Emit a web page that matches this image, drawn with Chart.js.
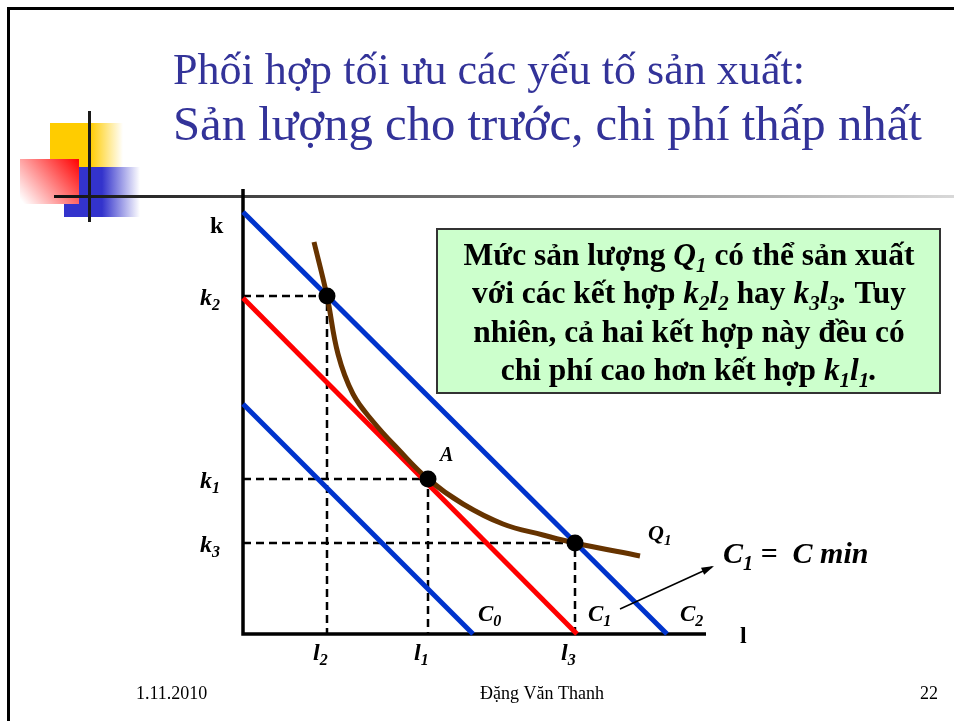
<!DOCTYPE html>
<html>
<head>
<meta charset="utf-8">
<script src="https://cdn.jsdelivr.net/npm/chart.js@4"></script>
<style>
  html, body { margin: 0; padding: 0; background: #fff; }
  canvas { display: block; }
</style>
</head>
<body>
<canvas id="slideChart" width="954" height="721"></canvas>
<script>
// values (l on x, k on y)
const lLabels = ['l2', 'l1', 'l3'];
const lValues = [1.68, 3.7, 6.64];
const kLabels = ['k2', 'k1', 'k3'];
const kValues = [6.76, 3.1, 1.82];

// isocost lines: intercepts on k and l axes
const isoNames = ['C0', 'C1', 'C2'];
const isoK = [4.6, 6.72, 8.44];
const isoL = [4.6, 6.68, 8.48];

// isoquant Q1
const q1L = [1.42, 1.68, 1.9, 2.2, 2.6, 3.1, 3.7, 4.4, 5.2, 6.0, 6.64, 7.94];
const q1K = [7.84, 6.76, 5.6, 4.8, 4.25, 3.7, 3.1, 2.6, 2.2, 1.98, 1.82, 1.56];

const axisTopK = 8.9;
const axisEndL = 9.26;

const SERIF = '"Liberation Serif", "Times New Roman", serif';
const BLUE = '#0033cc';
const RED = '#ff0000';
const BROWN = '#663300';

// draws text made of [text, style] pieces: b = bold, i = bold italic, s = subscript
function drawRich(ctx, segs, x, y, size, align) {
    const fontFor = st => st === 'b' ? `bold ${size}px ${SERIF}`
        : st === 'i' ? `italic bold ${size}px ${SERIF}`
        : `italic bold ${Math.round(size * 0.68)}px ${SERIF}`;
    let total = 0;
    const widths = segs.map(s => {
        ctx.font = fontFor(s[1]);
        const w = ctx.measureText(s[0]).width;
        total += w;
        return w;
    });
    let cx = align === 'center' ? x - total / 2 : x;
    ctx.textAlign = 'left';
    ctx.textBaseline = 'alphabetic';
    segs.forEach((s, i) => {
        ctx.font = fontFor(s[1]);
        ctx.fillText(s[0], cx, s[1] === 's' ? y + size * 0.22 : y);
        cx += widths[i];
    });
    return total;
}

// "k2" -> italic k with subscript 2
function symbol(name) {
    return [[name[0], 'i'], [name.slice(1), 's']];
}

function fitSize(ctx, text, weight, target) {
    ctx.font = `${weight} 40px ${SERIF}`;
    return 40 * target / ctx.measureText(text).width;
}

const boxLines = [
    [['Mức sản lượng ', 'b'], ['Q', 'i'], ['1', 's'], [' có thể sản xuất', 'b']],
    [['với các kết hợp ', 'b'], ['k', 'i'], ['2', 's'], ['l', 'i'], ['2', 's'], [' hay ', 'b'],
        ['k', 'i'], ['3', 's'], ['l', 'i'], ['3', 's'], ['.', 'i'], [' Tuy', 'b']],
    [['nhiên, cả hai kết hợp này đều có', 'b']],
    [['chi phí cao hơn kết hợp ', 'b'], ['k', 'i'], ['1', 's'], ['l', 'i'], ['1', 's'], ['.', 'i']]
];

const slidePlugin = {
    id: 'slide',
    beforeDraw(chart) {
        const ctx = chart.ctx;
        ctx.save();
        ctx.fillStyle = '#fff';
        ctx.fillRect(0, 0, chart.width, chart.height);

        // slide frame
        ctx.fillStyle = '#000';
        ctx.fillRect(7, 7, 947, 3);
        ctx.fillRect(7, 7, 3, 714);

        // decorative squares
        let g = ctx.createLinearGradient(50, 0, 123, 0);
        g.addColorStop(0, '#ffcc00');
        g.addColorStop(0.55, '#ffcc00');
        g.addColorStop(1, '#ffffff');
        ctx.fillStyle = g;
        ctx.fillRect(50, 123, 73, 44);

        g = ctx.createLinearGradient(64, 0, 140, 0);
        g.addColorStop(0, '#3333cc');
        g.addColorStop(0.5, '#3333cc');
        g.addColorStop(1, '#ffffff');
        ctx.fillStyle = g;
        ctx.fillRect(64, 167, 76, 50);

        g = ctx.createLinearGradient(79, 159, 24, 204);
        g.addColorStop(0, '#ff0000');
        g.addColorStop(1, '#ffffff');
        ctx.fillStyle = g;
        ctx.fillRect(20, 159, 59, 45);

        g = ctx.createLinearGradient(54, 0, 954, 0);
        g.addColorStop(0, '#111');
        g.addColorStop(0.3, '#555');
        g.addColorStop(1, '#d8d8d8');
        ctx.fillStyle = g;
        ctx.fillRect(54, 195, 900, 3);

        ctx.fillStyle = '#1a1a1a';
        ctx.fillRect(88, 111, 3, 111);

        // title
        ctx.fillStyle = '#333399';
        ctx.textAlign = 'left';
        ctx.textBaseline = 'alphabetic';
        const t1 = 'Phối hợp tối ưu các yếu tố sản xuất:';
        const t2 = 'Sản lượng cho trước, chi phí thấp nhất';
        ctx.font = `${fitSize(ctx, t1, 'normal', 632)}px ${SERIF}`;
        ctx.fillText(t1, 173, 84);
        ctx.font = `${fitSize(ctx, t2, 'normal', 749)}px ${SERIF}`;
        ctx.fillText(t2, 173, 140);

        // footer
        ctx.fillStyle = '#000';
        ctx.font = `18px ${SERIF}`;
        ctx.fillText('1.11.2010', 136, 699);
        ctx.textAlign = 'center';
        ctx.fillText('Đặng Văn Thanh', 542, 699);
        ctx.textAlign = 'right';
        ctx.fillText('22', 938, 699);
        ctx.restore();
    },
    afterDraw(chart) {
        const ctx = chart.ctx;
        const xs = chart.scales.x, ys = chart.scales.y;
        ctx.save();
        ctx.fillStyle = '#000';

        // axis names
        ctx.font = `bold 24px ${SERIF}`;
        ctx.textAlign = 'left';
        ctx.fillText('k', xs.getPixelForValue(0) - 33, ys.getPixelForValue(axisTopK) + 44);
        ctx.fillText('l', xs.getPixelForValue(axisEndL) + 34, ys.getPixelForValue(0) + 9);

        // tick labels
        kLabels.forEach((name, i) => {
            drawRich(ctx, symbol(name), xs.getPixelForValue(0) - 43, ys.getPixelForValue(kValues[i]) + 9, 24);
        });
        lLabels.forEach((name, i) => {
            drawRich(ctx, symbol(name), xs.getPixelForValue(lValues[i]) - 14, ys.getPixelForValue(0) + 26, 24);
        });

        // isocost names
        const cOff = [5, 11, 13];
        isoNames.forEach((name, i) => {
            drawRich(ctx, symbol(name), xs.getPixelForValue(isoL[i]) + cOff[i], ys.getPixelForValue(0) - 13, 23);
        });

        drawRich(ctx, symbol('Q1'), xs.getPixelForValue(q1L[q1L.length - 1]) + 8, ys.getPixelForValue(q1K[q1K.length - 1]) - 16, 22);
        drawRich(ctx, [['A', 'i']], xs.getPixelForValue(lValues[1]) + 12, ys.getPixelForValue(kValues[1]) - 18, 20);
        drawRich(ctx, [['C', 'i'], ['1', 's'], [' =  C min', 'i']], 723, 563, 30);

        // arrow to C1 = C min
        const ax0 = 620, ay0 = 609, ax1 = 712, ay1 = 567;
        ctx.strokeStyle = '#000';
        ctx.lineWidth = 1.5;
        ctx.beginPath();
        ctx.moveTo(ax0, ay0);
        ctx.lineTo(ax1, ay1);
        ctx.stroke();
        const ang = Math.atan2(ay1 - ay0, ax1 - ax0);
        ctx.beginPath();
        ctx.moveTo(ax1 + 2, ay1 - 1);
        ctx.lineTo(ax1 - 11 * Math.cos(ang - 0.35), ay1 - 11 * Math.sin(ang - 0.35));
        ctx.lineTo(ax1 - 11 * Math.cos(ang + 0.35), ay1 - 11 * Math.sin(ang + 0.35));
        ctx.closePath();
        ctx.fill();

        // note box
        ctx.fillStyle = '#ccffcc';
        ctx.fillRect(437, 229, 503, 164);
        ctx.strokeStyle = '#333';
        ctx.lineWidth = 2;
        ctx.strokeRect(437, 229, 503, 164);
        ctx.fillStyle = '#000';
        const boxSize = fitSize(ctx, 'Mức sản lượng Q1 có thể sản xuất', 'bold', 458);
        const baselines = [265, 303, 342, 380];
        boxLines.forEach((segs, i) => drawRich(ctx, segs, 689, baselines[i], boxSize, 'center'));
        ctx.restore();
    }
};

const pts = (ls, ks) => ls.map((l, i) => ({ x: l, y: ks[i] }));

const guideSets = kValues.map((k, i) => ({
    data: [{ x: 0, y: k }, { x: lValues[i], y: k }, { x: lValues[i], y: 0 }],
    borderColor: '#000',
    borderWidth: 2.5,
    borderDash: [8, 5],
    order: 3
}));

const isoSets = isoNames.map((name, i) => ({
    label: name,
    data: [{ x: 0, y: isoK[i] }, { x: isoL[i], y: 0 }],
    borderColor: i === 1 ? RED : BLUE,
    borderWidth: 5,
    order: 2
}));

new Chart(document.getElementById('slideChart'), {
    type: 'scatter',
    data: {
        datasets: [
            {
                label: 'points',
                data: pts(lValues, kValues),
                showLine: false,
                pointRadius: 8.5,
                pointBackgroundColor: '#000',
                pointBorderWidth: 0,
                order: 0
            },
            {
                label: 'Q1',
                data: pts(q1L, q1K),
                borderColor: BROWN,
                borderWidth: 5,
                tension: 0.4,
                order: 1
            },
            ...isoSets,
            ...guideSets,
            {
                label: 'axes',
                data: [{ x: 0, y: axisTopK }, { x: 0, y: 0 }, { x: axisEndL, y: 0 }],
                borderColor: '#000',
                borderWidth: 3.5,
                order: 4
            }
        ]
    },
    options: {
        responsive: false,
        devicePixelRatio: 1,
        animation: false,
        layout: { padding: { left: 243, right: 211, top: 184, bottom: 87 } },
        datasets: {
            scatter: { showLine: true, pointRadius: 0, clip: false, fill: false }
        },
        scales: {
            x: { type: 'linear', min: 0, max: 10, display: false },
            y: { type: 'linear', min: 0, max: 9, display: false }
        },
        plugins: {
            legend: { display: false },
            tooltip: { enabled: false }
        }
    },
    plugins: [slidePlugin]
});
</script>
</body>
</html>
